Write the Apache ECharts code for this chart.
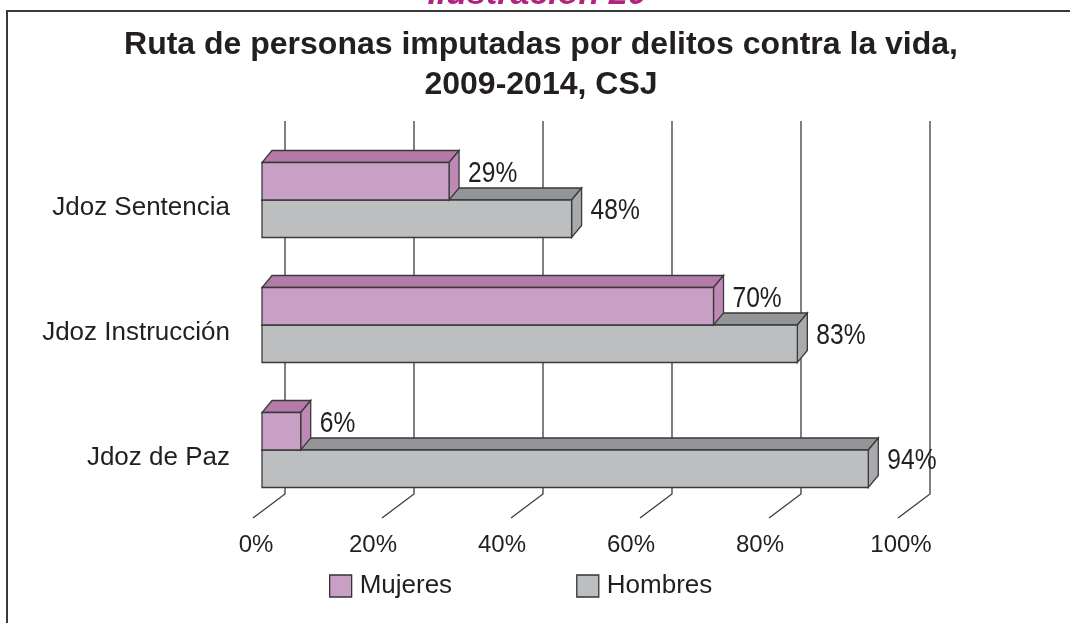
<!DOCTYPE html>
<html>
<head>
<meta charset="utf-8">
<script src="https://cdn.jsdelivr.net/npm/echarts@6/dist/echarts.min.js"></script>
<style>
  html, body { margin: 0; padding: 0; background: #fff; }
  #chart { width: 1070px; height: 623px; }
</style>
</head>
<body>
<div id="chart"></div>
<script>
// values
const categories = ["Jdoz Sentencia", "Jdoz Instrucción", "Jdoz de Paz"];
const mujeres = [29, 70, 6];
const hombres = [48, 83, 94];
const xTicks = [0, 20, 40, 60, 80, 100];

const sans = "'Liberation Sans', Arial, sans-serif";
const ink = "#231f20";
const edge = "#3a3a3a";
// bar depth offset (px)
const DX = 10, DY = 12;

const colors = {
  Mujeres: { front: "#c9a0c5", top: "#b47aa8", side: "#bf89b6" },
  Hombres: { front: "#bcbec0", top: "#939598", side: "#a8aaad" }
};

function barRender(name) {
  return function (params, api) {
    const v = api.value(0), ci = api.value(1);
    const p0 = api.coord([0, ci]);
    const p1 = api.coord([v, ci]);
    const band = api.size([0, 1])[1];
    const h = band * 0.3;
    const yTop = name === "Mujeres" ? p0[1] - h : p0[1];
    const yBot = yTop + h;
    const x0 = p0[0], x1 = p1[0];
    const c = colors[name];
    const st = { stroke: edge, lineWidth: 1.3, lineJoin: "miter" };
    return {
      type: "group",
      children: [
        { type: "polygon", shape: { points: [[x0, yTop], [x1, yTop], [x1 + DX, yTop - DY], [x0 + DX, yTop - DY]] },
          style: Object.assign({ fill: c.top }, st) },
        { type: "polygon", shape: { points: [[x1, yTop], [x1 + DX, yTop - DY], [x1 + DX, yBot - DY], [x1, yBot]] },
          style: Object.assign({ fill: c.side }, st) },
        { type: "rect", shape: { x: x0, y: yTop, width: x1 - x0, height: h },
          style: Object.assign({ fill: c.front }, st) },
        // condensed look: regular face squeezed horizontally
        { type: "text", x: x1 + 19, y: (yTop + yBot) / 2 - 8, scaleX: 0.82,
          style: { text: v + "%", fill: ink, font: "30px " + sans, align: "left", verticalAlign: "middle" } }
      ]
    };
  };
}

function gridRender(params, api) {
  const cs = params.coordSys;
  const x = api.coord([api.value(0), 0])[0];
  const top = cs.y - 16.5;
  const bottom = cs.y + cs.height - 18.5;
  return {
    type: "polyline",
    shape: { points: [[x + 23, top], [x + 23, bottom], [x - 9, cs.y + cs.height + 5.5]] },
    style: { stroke: "#3c3c3c", lineWidth: 1.3, fill: null }
  };
}

const chart = echarts.init(document.getElementById("chart"));
chart.setOption({
  animation: false,
  backgroundColor: "#fff",
  title: {
    text: "Ruta de personas imputadas por delitos contra la vida,\n2009-2014, CSJ",
    left: 541,
    textAlign: "center",
    top: 25,
    padding: 0,
    textStyle: { fontFamily: sans, fontSize: 32, fontWeight: "bold", color: ink, lineHeight: 40 }
  },
  graphic: [
    { type: "polyline", shape: { points: [[7, 623], [7, 11], [1070, 11]] },
      style: { stroke: "#3a3a3a", lineWidth: 2, fill: null } },
    { type: "text", x: 537, y: 12,
      style: { text: "Ilustración 20", fill: "#b0237f", align: "center", verticalAlign: "bottom",
        font: "italic bold 34px " + sans } }
  ],
  legend: {
    left: 329,
    top: 573,
    padding: 0,
    itemWidth: 22,
    itemHeight: 22,
    itemGap: 124,
    icon: "rect",
    itemStyle: { borderColor: "#333", borderWidth: 1.3 },
    textStyle: { fontFamily: sans, fontSize: 26, color: ink, padding: [0, 0, 0, 3] },
    data: ["Mujeres", "Hombres"]
  },
  grid: { left: 262, top: 137.5, width: 645, height: 375, containLabel: false, outerBoundsMode: "none" },
  xAxis: {
    type: "value",
    min: 0,
    max: 100,
    interval: 20,
    axisLine: { show: false },
    axisTick: { show: false },
    splitLine: { show: false },
    axisLabel: {
      margin: 21,
      formatter: function (v) {
        return (v === 0 || v === 100 ? "{e|" : "{m|") + v + "%}";
      },
      rich: {
        m: { padding: [0, 36, 0, 0], fontFamily: sans, fontSize: 24, color: ink },
        e: { padding: [0, 12, 0, 0], fontFamily: sans, fontSize: 24, color: ink }
      }
    }
  },
  yAxis: {
    type: "category",
    data: categories,
    inverse: true,
    axisLine: { show: false },
    axisTick: { show: false },
    splitLine: { show: false },
    axisLabel: { margin: 32, verticalAlign: "top", lineHeight: 16, fontFamily: sans, fontSize: 26, color: ink }
  },
  series: [
    { type: "custom", name: "grid", silent: true, z: 1, renderItem: gridRender,
      data: xTicks.map(v => [v, 0]) },
    { type: "custom", name: "Hombres", z: 2, renderItem: barRender("Hombres"),
      itemStyle: { color: colors.Hombres.front },
      data: hombres.map((v, i) => [v, i]) },
    { type: "custom", name: "Mujeres", z: 3, renderItem: barRender("Mujeres"),
      itemStyle: { color: colors.Mujeres.front },
      data: mujeres.map((v, i) => [v, i]) }
  ]
});
</script>
</body>
</html>
